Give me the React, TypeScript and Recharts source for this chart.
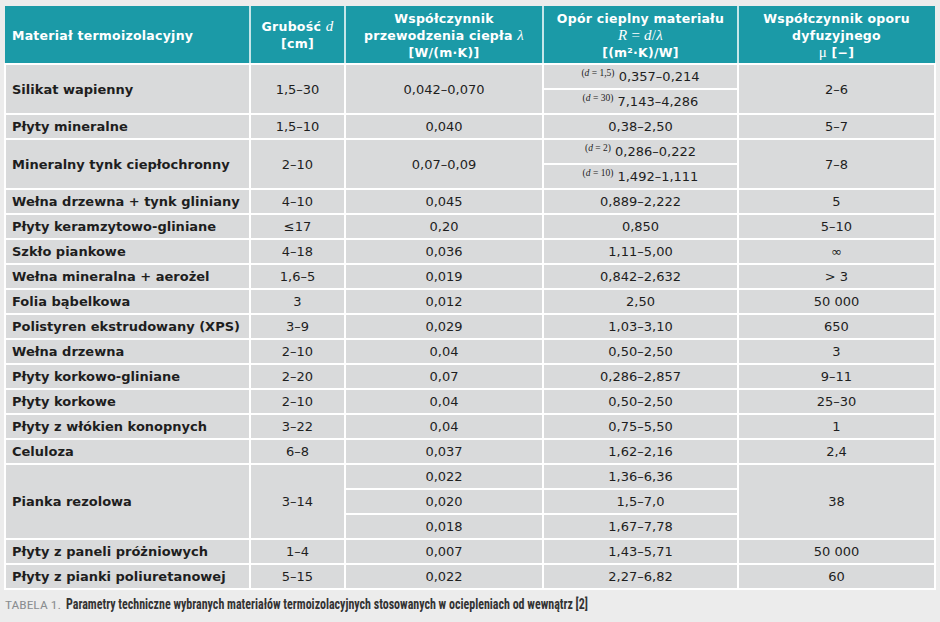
import React from 'react';
import { BarChart, Bar, XAxis, YAxis } from 'recharts';

// dane tabeli
const MATERIALS = [
  'Silikat wapienny', 'Płyty mineralne', 'Mineralny tynk ciepłochronny', 'Wełna drzewna + tynk gliniany',
  'Płyty keramzytowo-gliniane', 'Szkło piankowe', 'Wełna mineralna + aerożel', 'Folia bąbelkowa',
  'Polistyren ekstrudowany (XPS)', 'Wełna drzewna', 'Płyty korkowo-gliniane', 'Płyty korkowe',
  'Płyty z włókien konopnych', 'Celuloza', 'Pianka rezolowa', 'Płyty z paneli próżniowych',
  'Płyty z pianki poliuretanowej',
];
const THICKNESS = ['1,5–30', '1,5–10', '2–10', '4–10', '≤17', '4–18', '1,6–5', '3', '3–9', '2–10', '2–20', '2–10', '3–22', '6–8', '3–14', '1–4', '5–15'];
const LAMBDA = [
  ['0,042–0,070'], ['0,040'], ['0,07–0,09'], ['0,045'], ['0,20'], ['0,036'], ['0,019'], ['0,012'],
  ['0,029'], ['0,04'], ['0,07'], ['0,04'], ['0,04'], ['0,037'], ['0,022', '0,020', '0,018'], ['0,007'], ['0,022'],
];
const RESISTANCE = [
  ['0,357–0,214', '7,143–4,286'], ['0,38–2,50'], ['0,286–0,222', '1,492–1,111'], ['0,889–2,222'], ['0,850'],
  ['1,11–5,00'], ['0,842–2,632'], ['2,50'], ['1,03–3,10'], ['0,50–2,50'], ['0,286–2,857'], ['0,50–2,50'],
  ['0,75–5,50'], ['1,62–2,16'], ['1,36–6,36', '1,5–7,0', '1,67–7,78'], ['1,43–5,71'], ['2,27–6,82'],
];
// grubość d przy wartościach R (tylko dwa materiały)
const RESISTANCE_D = [['1,5', '30'], [], ['2', '10'], [], [], [], [], [], [], [], [], [], [], [], [], [], []];
const MU = ['2–6', '5–7', '7–8', '5', '5–10', '∞', '> 3', '50 000', '650', '3', '9–11', '25–30', '1', '2,4', '38', '50 000', '60'];

const CAPTION_LABEL = 'TABELA 1.';
const CAPTION_TEXT = 'Parametry techniczne wybranych materiałów termoizolacyjnych stosowanych w ociepleniach od wewnątrz [2]';

// jeden wiersz wykresu = jeden "slot" tabeli (scalone komórki zajmują kilka slotów)
const SLOTS = MATERIALS.flatMap((m, i) => {
  const span = Math.max(LAMBDA[i].length, RESISTANCE[i].length);
  return Array.from({ length: span }, (_, j) => ({ key: `${i}-${j}`, mat: i, sub: j, span, one: 1 }));
});

const COL_WIDTHS = [245, 95, 198, 195, 197];
const HEADER_H = 58;
const TEAL = '#1b9aa7';
const CELL = '#d9dadb';
const SANS = '"DejaVu Sans", Verdana, sans-serif';
const SERIF = '"Liberation Serif", "Times New Roman", serif';

type Seg = { t: string; it?: boolean; serif?: boolean };
const HEADER: Seg[][][] = [
  [[{ t: 'Materiał termoizolacyjny' }]],
  [[{ t: 'Grubość ' }, { t: 'd', it: true }], [{ t: '[cm]' }]],
  [[{ t: 'Współczynnik' }], [{ t: 'przewodzenia ciepła ' }, { t: 'λ', it: true }], [{ t: '[W/(m·K)]' }]],
  [[{ t: 'Opór cieplny materiału' }], [{ t: 'R', it: true }, { t: ' = ', serif: true }, { t: 'd', it: true }, { t: '/', serif: true }, { t: 'λ', it: true }], [{ t: '[(m²·K)/W]' }]],
  [[{ t: 'Współczynnik oporu' }], [{ t: 'dyfuzyjnego' }], [{ t: 'μ', serif: true }, { t: ' [−]' }]],
];

const segs = (line: Seg[]) =>
  line.map((s, k) => (
    <tspan
      key={k}
      fontFamily={s.it || s.serif ? SERIF : SANS}
      fontStyle={s.it ? 'italic' : 'normal'}
      fontWeight={s.it || s.serif ? 400 : 700}
      fontSize={s.it || s.serif ? 15 : 12.5}
    >
      {s.t}
    </tspan>
  ));

const colX = (x: number, c: number) => x + COL_WIDTHS.slice(0, c).reduce((a, b) => a + b, 0);

const Cell = ({ x, y, w, h }: any) => (
  <rect x={x} y={y} width={w} height={h} fill={CELL} stroke="#ffffff" strokeWidth={2} />
);

const Val = ({ x, y, children, anchor = 'middle', bold = false }: any) => (
  <text x={x} y={y + 4.5} textAnchor={anchor} fontFamily={SANS} fontSize={13} fontWeight={bold ? 700 : 400} fill="#1e1e1e">
    {children}
  </text>
);

function RowShape(props: any) {
  const { x, y, width, height, payload, index } = props;
  const { mat, sub, span } = payload;
  const out: React.ReactNode[] = [];

  // nagłówek
  if (index === 0) {
    const hy = y - HEADER_H;
    out.push(<rect key="hbg" x={x} y={hy} width={width} height={HEADER_H} fill={TEAL} />);
    HEADER.forEach((lines, c) => {
      const cx = colX(x, c);
      const w = COL_WIDTHS[c];
      if (c > 0) out.push(<line key={`hl${c}`} x1={cx} x2={cx} y1={hy} y2={y} stroke="#ffffff" strokeWidth={1.5} />);
      const gap = 17;
      const top = hy + HEADER_H / 2 - ((lines.length - 1) * gap) / 2;
      lines.forEach((line, li) => {
        out.push(
          <text
            key={`h${c}-${li}`}
            x={c === 0 ? cx + 7 : cx + w / 2}
            y={top + li * gap + 4.5}
            textAnchor={c === 0 ? 'start' : 'middle'}
            fill="#ffffff"
            letterSpacing={0.25}
          >
            {segs(line)}
          </text>,
        );
      });
    });
  }

  const full = height * span;
  const lam = LAMBDA[mat];
  const res = RESISTANCE[mat];

  if (sub === 0) {
    out.push(<Cell key="c0" x={colX(x, 0)} y={y} w={COL_WIDTHS[0]} h={full} />);
    out.push(<Val key="t0" x={colX(x, 0) + 7} y={y + full / 2} anchor="start" bold>{MATERIALS[mat]}</Val>);
    out.push(<Cell key="c1" x={colX(x, 1)} y={y} w={COL_WIDTHS[1]} h={full} />);
    out.push(<Val key="t1" x={colX(x, 1) + COL_WIDTHS[1] / 2} y={y + full / 2}>{THICKNESS[mat]}</Val>);
    out.push(<Cell key="c4" x={colX(x, 4)} y={y} w={COL_WIDTHS[4]} h={full} />);
    out.push(<Val key="t4" x={colX(x, 4) + COL_WIDTHS[4] / 2} y={y + full / 2}>{MU[mat]}</Val>);
  }

  const lamMerged = lam.length === 1;
  if (!lamMerged || sub === 0) {
    const h = lamMerged ? full : height;
    out.push(<Cell key="c2" x={colX(x, 2)} y={y} w={COL_WIDTHS[2]} h={h} />);
    out.push(<Val key="t2" x={colX(x, 2) + COL_WIDTHS[2] / 2} y={y + h / 2}>{lamMerged ? lam[0] : lam[sub]}</Val>);
  }

  const resMerged = res.length === 1;
  if (!resMerged || sub === 0) {
    const h = resMerged ? full : height;
    const d = RESISTANCE_D[mat][sub];
    out.push(<Cell key="c3" x={colX(x, 3)} y={y} w={COL_WIDTHS[3]} h={h} />);
    out.push(
      <text key="t3" x={colX(x, 3) + COL_WIDTHS[3] / 2} y={y + h / 2 + 4.5} textAnchor="middle" fontFamily={SANS} fontSize={13} fill="#1e1e1e">
        {d && !resMerged ? (
          <>
            <tspan fontFamily={SERIF} fontSize={9.5} dy={-5}>(</tspan>
            <tspan fontFamily={SERIF} fontSize={9.5} fontStyle="italic">d</tspan>
            <tspan fontFamily={SERIF} fontSize={9.5}>{` = ${d})`}</tspan>
            <tspan dy={5}>{' '}{res[sub]}</tspan>
          </>
        ) : (
          resMerged ? res[0] : res[sub]
        )}
      </text>,
    );
  }

  // podpis pod tabelą
  if (index === SLOTS.length - 1) {
    const cy = y + height + 20;
    out.push(
      <text key="cap1" x={x} y={cy} fontFamily='"Liberation Sans Narrow", "Roboto Condensed", "DejaVu Sans", sans-serif' fontSize={11} fill="#8a8d90" textLength={56} lengthAdjust="spacingAndGlyphs">
        {CAPTION_LABEL}
      </text>,
    );
    out.push(
      <text key="cap2" x={x + 61} y={cy} fontFamily='"Liberation Sans Narrow", "Roboto Condensed", "DejaVu Sans", sans-serif' fontSize={15} fontWeight={700} fill="#333333" textLength={522} lengthAdjust="spacingAndGlyphs">
        {CAPTION_TEXT}
      </text>,
    );
  }

  return <g>{out}</g>;
}

export default function App() {
  return (
    <div style={{ position: 'absolute', left: 0, top: 0, width: 940, height: 622, background: '#ececec' }}>
      <BarChart
        width={940}
        height={622}
        data={SLOTS}
        layout="vertical"
        margin={{ top: 64, right: 5, bottom: 33, left: 5 }}
        barCategoryGap={0}
        barGap={0}
      >
        <XAxis type="number" domain={[0, 1]} hide />
        <YAxis type="category" dataKey="key" hide />
        <Bar dataKey="one" isAnimationActive={false} shape={RowShape} />
      </BarChart>
    </div>
  );
}
